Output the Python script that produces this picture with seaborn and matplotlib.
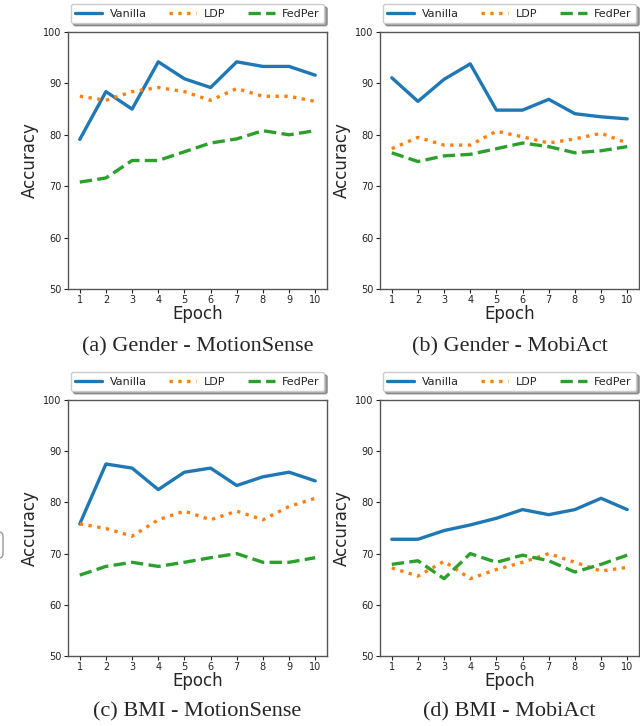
import numpy as np
import pandas as pd
import matplotlib
matplotlib.use("Agg")
import matplotlib.pyplot as plt
from matplotlib.patches import FancyBboxPatch
import seaborn as sns

epochs = [1, 2, 3, 4, 5, 6, 7, 8, 9, 10]
methods = ["Vanilla", "LDP", "FedPer"]

# (a) Gender - MotionSense
a_vanilla = [79.1, 88.4, 85.0, 94.2, 90.9, 89.2, 94.2, 93.3, 93.3, 91.6]
a_ldp     = [87.5, 86.7, 88.4, 89.2, 88.4, 86.7, 89.0, 87.5, 87.5, 86.5]
a_fedper  = [70.8, 71.6, 75.0, 75.0, 76.7, 78.4, 79.2, 80.8, 80.0, 80.8]

# (b) Gender - MobiAct
b_vanilla = [91.1, 86.5, 90.8, 93.8, 84.8, 84.8, 86.9, 84.1, 83.5, 83.1]
b_ldp     = [77.3, 79.5, 78.0, 78.0, 80.7, 79.6, 78.4, 79.2, 80.3, 78.4]
b_fedper  = [76.5, 74.8, 75.9, 76.2, 77.3, 78.4, 77.7, 76.5, 76.9, 77.7]

# (c) BMI - MotionSense
c_vanilla = [75.8, 87.5, 86.7, 82.5, 85.9, 86.7, 83.3, 85.0, 85.9, 84.2]
c_ldp     = [75.8, 74.9, 73.4, 76.6, 78.3, 76.6, 78.3, 76.6, 79.2, 80.8]
c_fedper  = [65.8, 67.5, 68.3, 67.5, 68.3, 69.2, 70.0, 68.3, 68.3, 69.2]

# (d) BMI - MobiAct
d_vanilla = [72.8, 72.8, 74.5, 75.6, 76.9, 78.6, 77.6, 78.6, 80.8, 78.6]
d_ldp     = [67.2, 65.6, 68.5, 65.1, 66.9, 68.3, 70.0, 68.3, 66.6, 67.3]
d_fedper  = [67.9, 68.6, 65.1, 70.0, 68.3, 69.7, 68.6, 66.4, 67.9, 69.7]

captions = ["(a) Gender - MotionSense", "(b) Gender - MobiAct",
            "(c) BMI - MotionSense", "(d) BMI - MobiAct"]
yticks = [50, 60, 70, 80, 90, 100]

panels = [
    (a_vanilla, a_ldp, a_fedper),
    (b_vanilla, b_ldp, b_fedper),
    (c_vanilla, c_ldp, c_fedper),
    (d_vanilla, d_ldp, d_fedper),
]

sns.set_style("ticks")
plt.rcParams["font.family"] = ["DejaVu Sans"]

colors = {"Vanilla": "#1f77b4", "LDP": "#ff7f0e", "FedPer": "#2ca02c"}
styles = {"Vanilla": "-", "LDP": ":", "FedPer": "--"}

W, H = 640, 726
fig = plt.figure(figsize=(W / 100, H / 100), dpi=100)

# axes positions in pixels (left, top, right, bottom)
boxes = [
    (68, 32, 327, 289),
    (380, 32, 639, 289),
    (68, 400, 327, 656),
    (380, 400, 639, 656),
]

for i, (vals, box) in enumerate(zip(panels, boxes)):
    l, t, r, b = box
    ax = fig.add_axes([l / W, 1 - b / H, (r - l) / W, (b - t) / H])
    for m, v in zip(methods, vals):
        df = pd.DataFrame({"Epoch": epochs, "Accuracy": v})
        sns.lineplot(data=df, x="Epoch", y="Accuracy", ax=ax, color=colors[m],
                     linestyle=styles[m], linewidth=2.4, label=m)
    ax.set_ylim(50, 100)
    ax.set_yticks(yticks)
    ax.set_xticks(epochs)
    ax.tick_params(labelsize=7, length=3, width=0.8, colors="#222222", pad=1.5)
    for s in ax.spines.values():
        s.set_color("#555555")
        s.set_linewidth(1.0)
    ax.set_xlabel("Epoch", fontsize=12, labelpad=0)
    ax.set_ylabel("Accuracy", fontsize=12, labelpad=3)
    ax.legend(loc="lower left", bbox_to_anchor=(0.01, 1.035, 0.98, 0.08),
              mode="expand", ncol=3, fontsize=8, shadow=True, frameon=True,
              handlelength=2.4, handletextpad=0.7, borderaxespad=0.0)
    fig.text((l + r) / 2 / W, 1 - (347 if i < 2 else 712) / H, captions[i],
             ha="center", va="center", fontsize=16, family="Liberation Serif")

# clipped legend box edge at the far left
patch = FancyBboxPatch((-40 / W, 1 - 558 / H), 43 / W, 26 / H,
                       boxstyle="round,pad=0,rounding_size=0.006",
                       transform=fig.transFigure, facecolor="white",
                       edgecolor="#999999", linewidth=1.0, clip_on=False)
fig.add_artist(patch)

fig.savefig("out.png", dpi=100)
